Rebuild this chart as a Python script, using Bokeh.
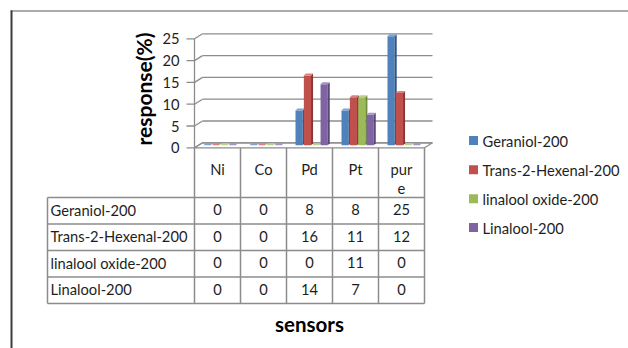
import numpy as np
from bokeh.plotting import figure
from bokeh.models import Range1d
from bokeh.core.properties import value
from bokeh.embed import file_html
from bokeh.resources import INLINE

# ---- data -------------------------------------------------------------
categories = ["Ni", "Co", "Pd", "Pt", "pure"]
series = ["Geraniol-200", "Trans-2-Hexenal-200", "linalool oxide-200", "Linalool-200"]
geraniol = [0, 0, 8, 8, 25]
hexenal = [0, 0, 16, 11, 12]
linalool_oxide = [0, 0, 0, 11, 0]
linalool = [0, 0, 14, 7, 0]
y_ticks = [0, 5, 10, 15, 20, 25]

values = [geraniol, hexenal, linalool_oxide, linalool]
front_colors = ["#4F81BD", "#C0504D", "#9BBB59", "#8064A2"]
side_colors = ["#30557F", "#8A3532", "#6E8A3A", "#59457A"]
top_colors = ["#7FA3D1", "#D78380", "#B9D18C", "#A892C2"]

# ---- layout (pixels) ----------------------------------------------------
W, H = 628, 348
CAT_PX = 46.0      # width of one category column
CAT0_PX = 194.0    # left edge of first category / front axis
UNIT_PX = 4.36     # pixels per response unit
ZERO_PX = 147.3    # front zero line, from top
WALL_DX, WALL_DY = 8.0, 5.0   # back-wall offset
FONT = value("Lato")
FS = "14.7px"
TEXT = "#1e1e1e"
LINE = "#8c8c8c"


def X(px):
    return (px - CAT0_PX) / CAT_PX


def Y(py):
    return (ZERO_PX - py) / UNIT_PX


def dx(px):
    return px / CAT_PX


def dy(px):
    return px / UNIT_PX


p = figure(width=W, height=H, x_range=Range1d(X(0), X(W)), y_range=Range1d(Y(H), Y(0)),
           output_backend="svg", toolbar_location=None, min_border=0,
           x_axis_type=None, y_axis_type=None, outline_line_color=None,
           background_fill_color="white", border_fill_color="white")
p.xgrid.visible = False
p.ygrid.visible = False

# outer frame
p.line([X(10), X(W)], [Y(10.5), Y(10.5)], line_color="#8f8f8f", line_width=1.5)
p.line([X(11), X(11)], [Y(10), Y(H)], line_color="#3c3c3c", line_width=2)

n_cat = len(categories)
t = np.array(y_ticks, dtype=float)

# floor
p.patch([0, dx(WALL_DX), n_cat + dx(WALL_DX), n_cat], [0, dy(WALL_DY), dy(WALL_DY), 0],
        fill_color="white", line_color=LINE, line_width=1.2)
# back-wall gridlines, side-wall diagonals and tick marks
p.segment(x0=np.full(len(t), dx(WALL_DX)), y0=t + dy(WALL_DY),
          x1=np.full(len(t), n_cat + dx(WALL_DX)), y1=t + dy(WALL_DY),
          line_color=LINE, line_width=1.3)
p.segment(x0=np.zeros(len(t)), y0=t, x1=np.full(len(t), dx(WALL_DX)), y1=t + dy(WALL_DY),
          line_color=LINE, line_width=1.3)
p.segment(x0=np.full(len(t), -dx(8)), y0=t, x1=np.zeros(len(t)), y1=t,
          line_color=LINE, line_width=1.3)
p.line([0, 0], [0, max(y_ticks)], line_color=LINE, line_width=1.3)

p.text(x=np.full(len(t), X(179)), y=t, text=[str(v) for v in y_ticks],
       text_align="right", text_baseline="middle", text_font=FONT,
       text_font_size=FS, text_color=TEXT)

# 3-D columns
bar_w, pitch, first = dx(7.2), dx(8.35), dx(9.0)
sx, sy = dx(2.0), dy(2.0)
base = dy(2.5)
cat_idx = np.arange(n_cat, dtype=float)
for j, vals in enumerate(values):
    v = np.array(vals, dtype=float)
    left = cat_idx + first + j * pitch
    right = left + bar_w
    top = v + base
    p.quad(left=left, right=right, bottom=np.full(n_cat, base), top=top,
           fill_color=front_colors[j], line_color=None)
    p.patches(xs=[[r, r + sx, r + sx, r] for r in right],
              ys=[[base, base + sy, tp + sy, tp] for tp in top],
              fill_color=side_colors[j], line_color=None)
    p.patches(xs=[[l, r, r + sx, l + sx] for l, r in zip(left, right)],
              ys=[[tp, tp, tp + sy, tp + sy] for tp in top],
              fill_color=top_colors[j], line_color=None)

# data table
row_lines = [197.0, 223.5, 250.0, 276.5, 303.0]
p.segment(x0=np.arange(n_cat + 1, dtype=float), y0=np.zeros(n_cat + 1),
          x1=np.arange(n_cat + 1, dtype=float), y1=np.full(n_cat + 1, Y(row_lines[-1])),
          line_color=LINE, line_width=1.5)
p.segment(x0=np.full(len(row_lines), X(47)), y0=[Y(r) for r in row_lines],
          x1=np.full(len(row_lines), float(n_cat)), y1=[Y(r) for r in row_lines],
          line_color=LINE, line_width=1.5)
p.line([X(47), X(47)], [Y(row_lines[0]), Y(row_lines[-1])], line_color=LINE, line_width=1.5)

# column headers, wrapped after three characters
head_1 = [c[:3] for c in categories]
head_2 = [c[3:] for c in categories]
p.text(x=cat_idx + 0.5, y=np.full(n_cat, Y(168)), text=head_1, text_align="center",
       text_baseline="middle", text_font=FONT, text_font_size=FS, text_color=TEXT)
p.text(x=cat_idx + 0.5, y=np.full(n_cat, Y(188)), text=head_2, text_align="center",
       text_baseline="middle", text_font=FONT, text_font_size=FS, text_color=TEXT)

row_mid = [(a + b) / 2 - 1 for a, b in zip(row_lines[:-1], row_lines[1:])]
p.text(x=np.full(len(series), X(50)), y=[Y(m) for m in row_mid], text=series,
       text_align="left", text_baseline="middle", text_font=FONT,
       text_font_size=FS, text_color=TEXT)
for j, vals in enumerate(values):
    p.text(x=cat_idx + 0.5, y=np.full(n_cat, Y(row_mid[j])), text=[str(v) for v in vals],
           text_align="center", text_baseline="middle", text_font=FONT,
           text_font_size=FS, text_color=TEXT)

# axis titles
p.text(x=[X(142.5)], y=[Y(88.5)], text=["response(%)"], angle=np.pi / 2,
       text_align="center", text_baseline="middle", text_font=FONT,
       text_font_size="21px", text_font_style="bold", text_color="black")
p.text(x=[X(309)], y=[Y(323)], text=["sensors"], text_align="center",
       text_baseline="middle", text_font=FONT, text_font_size="20.5px",
       text_font_style="bold", text_color="black")

# legend
leg_y = [140.0, 169.3, 198.3, 227.0]
p.scatter(x=np.full(len(series), X(473)), y=[Y(v) for v in leg_y], marker="square",
          size=9, fill_color=front_colors, line_color=None)
p.text(x=np.full(len(series), X(482)), y=[Y(v) for v in leg_y], text=series,
       text_align="left", text_baseline="middle", text_font=FONT,
       text_font_size=FS, text_color=TEXT)

open("out.html", "w").write(file_html(p, INLINE))
